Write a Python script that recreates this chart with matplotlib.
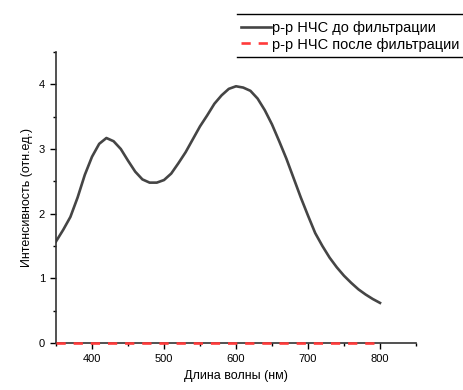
import numpy as np
import matplotlib.pyplot as plt
from matplotlib.lines import Line2D

plt.rcParams['font.family'] = ['Liberation Sans', 'DejaVu Sans']

# spectrum before filtering
wl = [350, 360, 370, 380, 390, 400, 410, 420, 430, 440, 450, 460, 470, 480, 490,
      500, 510, 520, 530, 540, 550, 560, 570, 580, 590, 600, 610, 620, 630, 640,
      650, 660, 670, 680, 690, 700, 710, 720, 730, 740, 750, 760, 770, 780, 790, 800]
before = [1.57, 1.75, 1.95, 2.25, 2.6, 2.88, 3.08, 3.17, 3.12, 3.0, 2.82, 2.65, 2.53, 2.48, 2.48,
          2.52, 2.62, 2.78, 2.95, 3.15, 3.35, 3.52, 3.7, 3.83, 3.93, 3.97, 3.95, 3.9, 3.78, 3.6,
          3.38, 3.12, 2.85, 2.55, 2.25, 1.97, 1.7, 1.5, 1.32, 1.17, 1.04, 0.93, 0.83, 0.75, 0.68, 0.62]
after = [0.0] * len(wl)

labels = ["р-р НЧС до фильтрации", "р-р НЧС после фильтрации"]

fig = plt.figure(figsize=(4.63, 3.9), dpi=100)
ax = fig.add_axes([56/463, 47/390, 360/463, 291/390])

ax.plot(wl, before, color='#454545', lw=1.9, label=labels[0])
ax.plot(wl, after, color='#ff3a3a', lw=1.9, ls=(0, (3.5, 3)), label=labels[1],
        clip_on=False, zorder=5)

ax.set_xlim(350, 850)
ax.set_ylim(0, 4.5)
ax.set_xticks([400, 500, 600, 700, 800])
ax.set_xticks([350, 450, 550, 650, 750, 850], minor=True)
ax.set_yticks([0, 1, 2, 3, 4])
ax.set_yticks([0.5, 1.5, 2.5, 3.5, 4.5], minor=True)
ax.tick_params(which='major', length=4, width=1, labelsize=8, direction='out', pad=4)
ax.tick_params(which='minor', length=2.5, width=1, direction='out')
for s in ['top', 'right']:
    ax.spines[s].set_visible(False)
for s in ['left', 'bottom']:
    ax.spines[s].set_color('#333333')
    ax.spines[s].set_linewidth(1.2)

ax.set_xlabel("Длина волны (нм)", fontsize=9)
ax.set_ylabel("Интенсивность (отн.ед.)", fontsize=9)

fig.legend(loc='upper left', bbox_to_anchor=(237/463, 1 - 17/390), fontsize=10.5,
           frameon=False, handlelength=2.0,
           handletextpad=0.1, borderpad=0.3, labelspacing=0.15, borderaxespad=0)
# legend box is cut by the right edge: only top and bottom rules show
for yy in [1 - 14/390, 1 - 57/390]:
    fig.add_artist(Line2D([237/463, 1], [yy, yy], color='black', lw=1.0,
                          transform=fig.transFigure))

fig.savefig("out.png", dpi=100)
